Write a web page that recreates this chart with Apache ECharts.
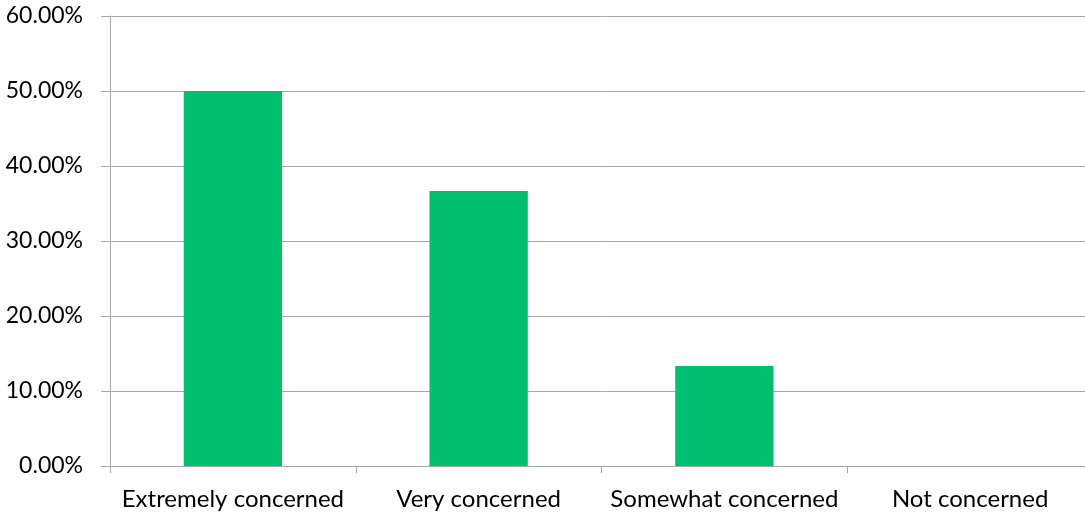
<!DOCTYPE html>
<html><head><meta charset="utf-8">
<script src="https://cdn.jsdelivr.net/npm/echarts@6/dist/echarts.min.js"></script>
<style>html,body{margin:0;padding:0;background:#fff;overflow:hidden;width:1085px;height:516px}#c{width:1093px;height:516px}</style>
</head><body><div id="c"></div>
<script>
const categories = ["Extremely concerned", "Very concerned", "Somewhat concerned", "Not concerned"];
const values = [0.50, 0.3667, 0.1333, 0];
const yTicks = [0, 0.1, 0.2, 0.3, 0.4, 0.5, 0.6];

const chart = echarts.init(document.getElementById('c'));
const font = 'Lato, "Open Sans", sans-serif';
chart.setOption({
  animation: false,
  grid: {left: 110, top: 16, bottom: 50, right: 0},
  xAxis: {
    type: 'category', data: categories,
    axisLine: {lineStyle: {color: '#a6a6a6', width: 1}},
    axisTick: {show: true, length: 7, interval: 0, alignWithLabel: false, lineStyle: {color: '#a6a6a6'}},
    axisLabel: {color: '#000', fontSize: 24, fontFamily: font, margin: 21, interval: 0}
  },
  yAxis: {
    type: 'value', min: yTicks[0], max: yTicks[yTicks.length-1], interval: 0.1,
    axisLine: {show: true, lineStyle: {color: '#a6a6a6', width: 1}},
    axisTick: {show: true, length: 9, lineStyle: {color: '#a6a6a6'}},
    splitLine: {lineStyle: {color: '#a6a6a6', width: 1}},
    axisLabel: {color: '#000', fontSize: 23, fontFamily: font, margin: 27,
      formatter: v => (v*100).toFixed(2) + '%'}
  },
  series: [{type: 'bar', data: values, barWidth: '40%', itemStyle: {color: '#00BF6F'}}]
});
</script></body></html>
